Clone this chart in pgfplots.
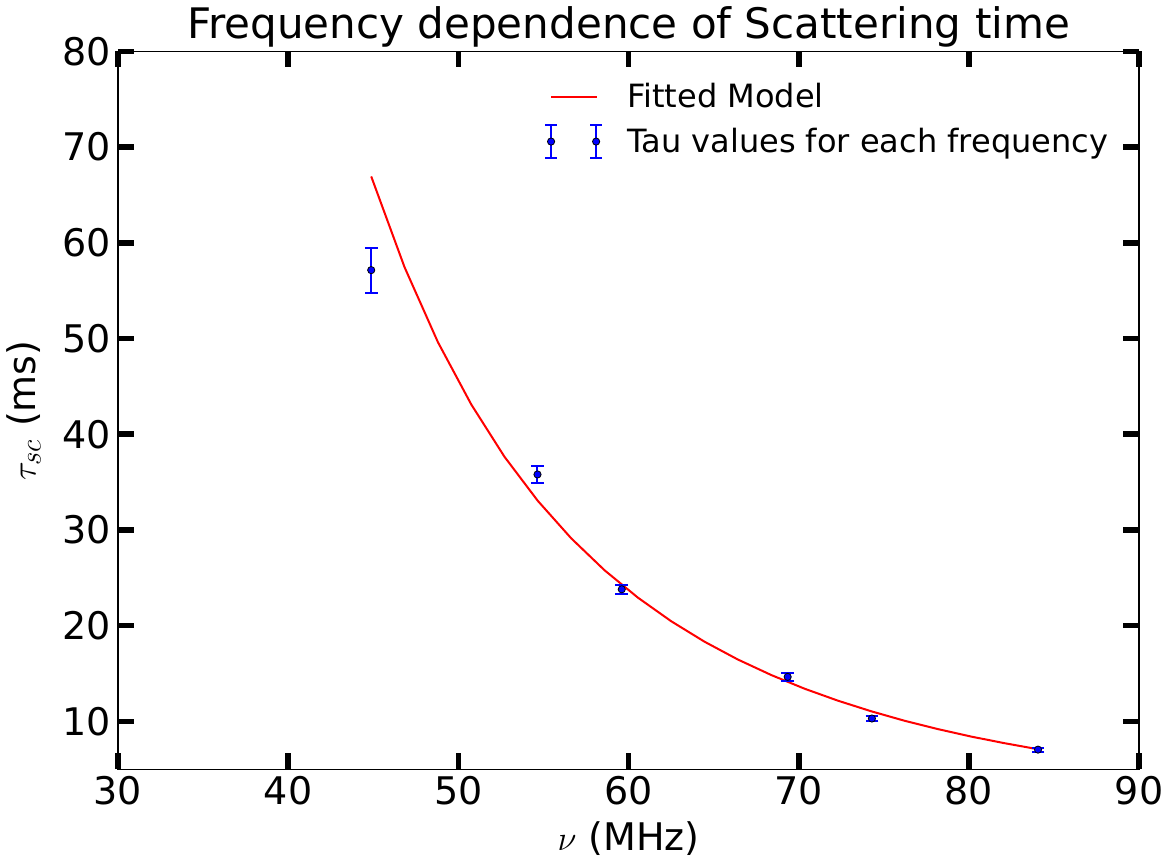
\documentclass[border=0pt]{standalone}
\usepackage{fontspec}
\setmainfont{DejaVu Sans}
\usepackage{pgfplots}
\pgfplotsset{compat=1.18}
\begin{document}
\begin{tikzpicture}
\begin{axis}[
  scale only axis,
  width=510pt, height=358.5pt,
  xmin=30, xmax=90, ymin=5, ymax=80,
  xtick={30,40,...,90}, ytick={10,20,...,80},
  minor tick num=0,
  tick align=inside,
  tick pos=both,
  major tick length=8pt,
  tick style={black, line width=2.8pt},
  axis line style={line width=0.7pt},
  /pgf/number format/assume math mode=true,
  ticklabel style={font=\fontsize{19}{23}\selectfont},
  title={Frequency dependence of Scattering time},
  title style={font=\fontsize{21}{25}\selectfont, yshift=-7.5pt},
  xlabel={$\nu$ (MHz)},
  ylabel={$\tau_{sc}$ (ms)},
  label style={font=\fontsize{19}{23}\selectfont},
  xlabel style={yshift=-1.5pt},
  ylabel style={yshift=4pt},
  legend style={at={(0.98,0.967)}, anchor=north east, draw=none, fill=none,
    font=\fontsize{16}{19}\selectfont, row sep=4.5pt,
    /tikz/every odd column/.append style={column sep=10pt}},
  legend cell align=left,
]
\addplot[red, line width=1pt, no marks,
  legend image code/.code={\draw[red, line width=1pt] (0pt,0pt) -- (23pt,0pt);}]
  coordinates {
  (44.88,66.94) (46.84,57.45) (48.80,49.62) (50.76,43.11) (52.71,37.65)
  (54.67,33.04) (56.63,29.13) (58.59,25.79) (60.55,22.93) (62.51,20.46)
  (64.47,18.32) (66.43,16.46) (68.39,14.84) (70.35,13.41) (72.31,12.16)
  (74.27,11.05) (76.23,10.06) (78.19,9.19) (80.14,8.41) (82.10,7.72)
  (84.06,7.09)};
\addlegendentry{Fitted Model}
\addplot[only marks, mark=*, mark size=1.8pt,
  mark options={fill=blue, draw=black, line width=0.4pt},
  error bars/.cd, y dir=both, y explicit,
  error bar style={blue, line width=1pt},
  error mark options={rotate=90, mark size=3.2pt, blue, line width=1pt},
  /pgfplots/legend image code/.code={
  \draw[blue, line width=1pt] (0pt,-8.3pt) -- (0pt,8.3pt);
  \draw[blue, line width=1pt] (-3pt,-8.3pt) -- (3pt,-8.3pt);
  \draw[blue, line width=1pt] (-3pt,8.3pt) -- (3pt,8.3pt);
  \filldraw[fill=blue, draw=black, line width=0.4pt] (0pt,0pt) circle (1.8pt);
  \draw[blue, line width=1pt] (22.5pt,-8.3pt) -- (22.5pt,8.3pt);
  \draw[blue, line width=1pt] (19.5pt,-8.3pt) -- (25.5pt,-8.3pt);
  \draw[blue, line width=1pt] (19.5pt,8.3pt) -- (25.5pt,8.3pt);
  \filldraw[fill=blue, draw=black, line width=0.4pt] (22.5pt,0pt) circle (1.8pt);
  },
  ] table[x=x, y=y, y error=e] {
  x y e
  44.88 57.15 2.35
  54.65 35.80 0.85
  59.60 23.80 0.50
  69.35 14.65 0.40
  74.30 10.30 0.30
  84.06 7.05 0.20
};
\addlegendentry{Tau values for each frequency}
\end{axis}
\end{tikzpicture}
\end{document}
